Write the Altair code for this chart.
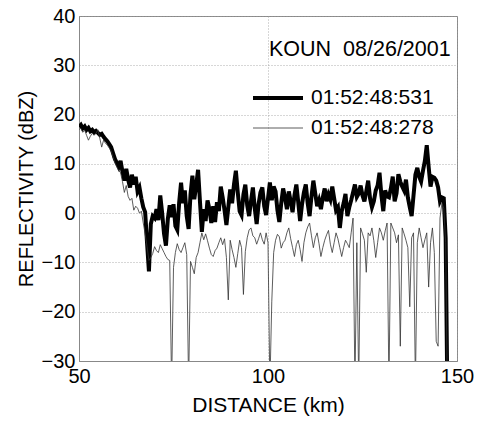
import altair as alt
import pandas as pd

# Range gates (km) sampled every 0.5 km from 50 km
START_KM = 50.0
GATE_KM = 0.5

# Thick trace: 01:52:48:531 (dBZ), one row per 5 km
SCAN_531 = [
    17.5, 17.9, 17.2, 17.6, 16.9, 17.3, 16.6, 16.9, 16.4, 16.7,
    16.3, 15.9, 16.1, 15.5, 15.0, 14.6, 14.0, 13.4, 12.2, 11.0,
    10.2, 9.4, 10.6, 8.4, 6.6, 9.0, 6.8, 5.2, 7.8, 5.8,
    7.4, 4.4, 5.2, 3.0, 1.2, 0.2, -6.0, -11.8, -2.2, -0.6,
    -1.0, 0.8, -1.4, 3.6, 0.0, -4.2, -6.6, -1.2, 1.6, -0.8,
    1.8, -2.6, -3.4, 2.2, 6.2, 2.0, 4.6, -0.6, -3.2, 3.8,
    7.6, 2.8, 5.6, 8.8, 2.4, -3.8, 0.8, -1.6, 2.6, 0.8,
    -2.0, 1.4, -1.8, 2.2, 0.4, 5.4, 3.2, 0.6, -2.4, 1.2,
    4.8, 2.0, 5.8, 8.6, 4.2, 0.4, -0.4, 3.8, 5.8, 1.6,
    -0.6, 2.4, 5.2, 1.0, -2.2, 1.8, 4.2, 5.2, 1.4, -0.4,
    3.0, 6.2, 2.6, 5.4, 4.4, 0.6, -1.8, 2.0, 5.0, 3.2,
    0.8, 4.4, 2.4, 0.2, 3.6, 5.8, 2.2, -1.6, 1.8, 4.2,
    5.8, 2.0, -0.6, 3.4, 6.6, 4.0, 1.4, 2.6, 0.8, 3.2,
    5.0, 2.4, 3.8, 2.8, 5.4, 3.0, 0.6, 1.2, -3.0, 0.4,
    2.0, 3.9, -0.6, 1.2, 2.6, 4.2, 5.8, 3.3, 4.0, 5.6,
    3.6, 2.4, 4.4, 6.6, 3.0, 1.2, 2.4, 4.6, 5.6, 8.2,
    3.6, 0.4, 4.6, 3.4, 3.2, 5.0, 7.4, 2.4, 4.0, 7.9,
    6.4, 5.4, 4.6, 6.8, 3.2, 1.2, -0.6, 3.6, 7.8, 9.2,
    7.4, 6.4, 8.6, 10.6, 13.8, 9.4, 5.4, 7.4, 7.2, 6.6,
    5.2, 2.4, 3.2, 3.0, -5.0, -40.0,
]

# Thin trace: 01:52:48:278 (dBZ), one row per 5 km
SCAN_278 = [
    17.0, 17.2, 16.4, 16.8, 15.8, 14.8, 15.6, 16.2, 15.8, 16.2,
    16.9, 15.2, 13.4, 14.8, 14.2, 13.8, 13.2, 12.6, 11.4, 10.2,
    9.4, 8.6, 8.2, 6.4, 4.2, 5.6, 3.4, 2.6, 3.0, 0.6,
    1.4, 1.0, 0.0, 0.4, -2.0, -4.2, -6.8, -9.6, -9.0, -8.2,
    -6.8, -7.6, -8.0, -6.4, -7.2, -8.0, -8.8, -9.4, -9.6, -35.0,
    -11.0, -8.0, -6.2, -7.4, -8.0, -7.0, -6.0, -8.4, -35.0, -9.8,
    -11.0, -12.3, -9.0, -8.0, -6.0, -4.0, -5.4, -4.2, -5.6, -7.1,
    -8.4, -8.8, -7.6, -7.1, -6.0, -5.0, -6.4, -5.2, -9.0, -17.6,
    -5.5, -7.4, -9.0, -11.0, -8.2, -5.5, -7.0, -16.5, -7.8, -5.0,
    -3.4, -3.0, -4.6, -5.0, -6.3, -5.2, -4.0, -5.4, -6.3, -4.0,
    -6.0, -35.0, -18.0, -8.0, -5.5, -4.3, -4.8, -7.1, -6.0, -5.5,
    -4.0, -3.0, -5.2, -7.0, -8.8, -6.4, -5.5, -7.4, -9.8, -6.0,
    -4.0, -2.8, -2.0, -4.6, -7.0, -5.0, -4.0, -6.2, -8.8, -7.0,
    -5.5, -4.4, -3.5, -6.3, -8.0, -6.0, -4.0, -5.2, -7.0, -8.8,
    -7.0, -5.5, -6.2, -7.0, -4.0, -1.0, -35.0, -6.0, -35.0, -3.0,
    -4.2, -5.5, -12.0, -4.0, -4.6, -3.0, -5.6, -9.0, -6.0, -3.0,
    -4.0, -5.5, -3.6, -2.0, -35.0, -2.0, -3.0, -4.0, -6.0, -4.4,
    -27.0, -3.0, -4.2, -5.5, -7.0, -19.0, -5.0, -4.0, -35.0, -6.0,
    -3.0, -5.0, -7.0, -5.4, -4.0, -15.0, -6.0, -3.0, -8.0, -26.0,
    -27.0, -1.0, 2.0, 1.0, -6.0, -40.0,
]

LABEL_531 = "01:52:48:531"
LABEL_278 = "01:52:48:278"
TITLE = "KOUN\u00a0\u00a008/26/2001"
X_TICKS = [50, 100, 150]
Y_TICKS = [-30, -20, -10, 0, 10, 20, 30, 40]

rows = []
for label, series in [(LABEL_531, SCAN_531), (LABEL_278, SCAN_278)]:
    for i, v in enumerate(series):
        rows.append({"distance": START_KM + GATE_KM * i, "dbz": v, "scan": label})
df = pd.DataFrame(rows)

FONT = "Liberation Sans"
legend = alt.Legend(
    orient="none", legendX=172, legendY=70, title=None,
    labelFont=FONT, labelFontSize=21, labelColor="black", labelOffset=6,
    symbolType="stroke", symbolSize=2500, clipHeight=24, rowPadding=6,
)

chart = alt.Chart(df).mark_line(clip=True, strokeJoin="miter").encode(
    x=alt.X("distance:Q", scale=alt.Scale(domain=[50, 150], nice=False, zero=False),
            axis=alt.Axis(values=X_TICKS, title="DISTANCE (km)", labelFlush=False,
                          labelPadding=5, titlePadding=8, titleFontSize=21)),
    y=alt.Y("dbz:Q", scale=alt.Scale(domain=[-30, 40], nice=False, zero=False),
            axis=alt.Axis(values=Y_TICKS, title="REFLECTIVITY (dBZ)",
                          labelPadding=4, titlePadding=5)),
    color=alt.Color("scan:O", sort=[LABEL_531, LABEL_278],
                    scale=alt.Scale(domain=[LABEL_531, LABEL_278], range=["#000000", "#333333"]),
                    legend=legend),
    strokeWidth=alt.StrokeWidth("scan:O", sort=[LABEL_531, LABEL_278],
                                scale=alt.Scale(domain=[LABEL_531, LABEL_278], range=[4.0, 0.8]),
                                legend=legend),
).properties(
    width=378, height=345,
    title=alt.TitleParams(TITLE, anchor="end", orient="top", offset=0, dx=-23, dy=71,
                          baseline="alphabetic", font=FONT, fontSize=21.5,
                          fontWeight="normal", color="black"),
    autosize=alt.AutoSizeParams(type="none"),
    padding={"left": 79, "top": 16, "right": 23, "bottom": 61},
    background="white",
).configure_axis(
    labelFont=FONT, labelFontSize=20, labelColor="black",
    titleFont=FONT, titleFontSize=20, titleFontWeight="normal", titleColor="black",
    domainColor="#888888", tickSize=0,
    grid=True, gridColor="#9a9a9a", gridDash=[1, 2], gridWidth=0.8,
).configure_view(stroke="#888888", strokeWidth=1)

chart.save("out.html", embed_options={"renderer": "svg", "actions": False})
